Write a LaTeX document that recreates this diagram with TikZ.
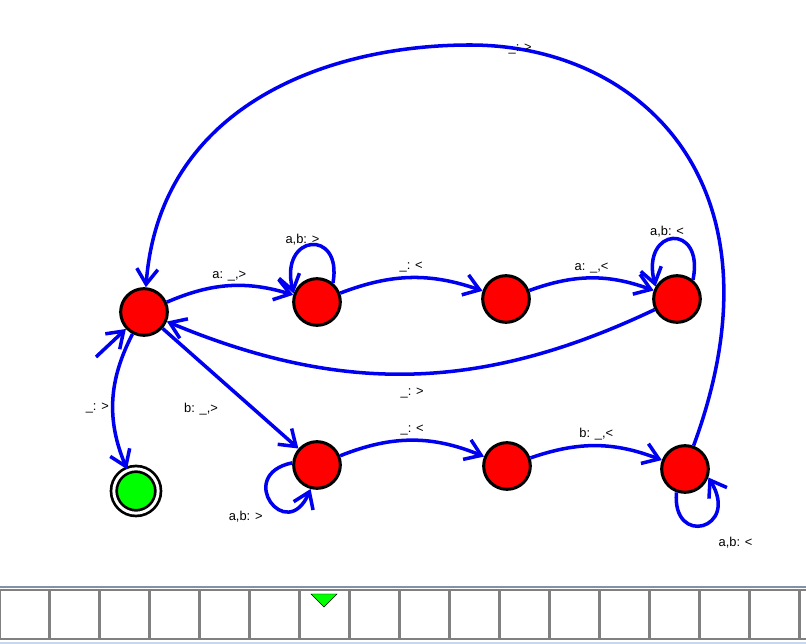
\documentclass[tikz,border=0pt]{standalone}
\usepackage{fontspec}
\setmainfont{Liberation Sans}
\usepackage{xcolor}
\usetikzlibrary{arrows.meta, positioning}

\definecolor{stateRed}{RGB}{255,0,0}
\definecolor{acceptGreen}{RGB}{0,255,0}
\definecolor{transBlue}{RGB}{0,0,240}
\definecolor{tapeGray}{RGB}{128,128,128}
\definecolor{tapeLine}{RGB}{130,145,165}
\definecolor{tapeEdge}{RGB}{200,215,235}

\tikzset{
    state/.style={circle, draw=black, fill=stateRed, line width=2.6pt, minimum size=1.4cm, inner sep=0pt},
    accept/.style={circle, draw=black, fill=acceptGreen, line width=2.3pt, double=white, double distance=2.5pt, minimum size=1.33cm, inner sep=0pt},
    trans/.style={draw=transBlue, line width=3pt, -{Straight Barb[length=13pt, width=18pt]}},
    lbl/.style={font=\fontsize{11}{13}\selectfont, text=black, inner sep=2pt},
    cell/.style={draw=tapeGray, line width=2.5pt},
}

\begin{document}
\begin{tikzpicture}[x=0.03cm, y=0.03cm]
    \useasboundingbox (0,0) rectangle (806,644);
    \clip (0,0) rectangle (806,644);

    % Define the states
    \node[state] (q0) at (144,332) {};
    \node[state] (q1) at (317,342) {};
    \node[state] (q2) at (506,345) {};
    \node[state] (q3) at (677,345) {};
    \node[state] (q4) at (317,179) {};
    \node[state] (q5) at (507,178) {};
    \node[state] (q6) at (685,175) {};
    \node[accept] (qf) at (136,153) {};
    \coordinate (start) at (96,287);
    \coordinate (arcTop) at (470,599);

    % Start arrow
    \draw[trans] (start) -- (q0);

    % Upper row
    \draw[trans] (q0) to[bend left=20] node[lbl, midway, above=1pt] {a: \_,>} (q1);
    \draw[trans] (q1.50) .. controls +(10,55) and +(-15,60) .. (q1.160)
        node[lbl, pos=0.62, above] {a,b: >};
    \draw[trans] (q1) to[bend left=20] node[lbl, midway, above=1pt] {\_: <} (q2);
    \draw[trans] (q2) to[bend left=20] node[lbl, midway, above=1pt] {a: \_,<} (q3);
    \draw[trans] (q3.50) .. controls +(12,58) and +(-15,60) .. (q3.150)
        node[lbl, pos=0.58, above] {a,b: <};
    \draw[trans] (q3) to[bend left=24] node[lbl, midway, below=9pt] {\_: >} (q0);

    % Lower row
    \draw[trans] (q0) -- node[lbl, pos=0.45, below left=2pt, yshift=-13pt] {b: \_,>} (q4);
    \draw[trans] (q4.175) .. controls +(-58,-12) and +(-24,-56) .. (q4.255)
        node[lbl, pos=0.45, below left=2pt, yshift=-7pt] {a,b: >};
    \draw[trans] (q4) to[bend left=22] node[lbl, midway, above=1pt] {\_: <} (q5);
    \draw[trans] (q5) to[bend left=20] node[lbl, midway, above=1pt] {b: \_,<} (q6);
    \draw[trans] (q6.250) .. controls +(-5,-55) and +(32,-52) .. (q6.-20)
        node[lbl, pos=0.6, below right=6pt, yshift=-6pt] {a,b: <};

    % Big arc back and halt
    \draw[trans] (q6) .. controls (790,460) and (640,599) .. node[lbl, pos=0.9] {\_: >} (arcTop)
        .. controls (330,599) and (160,540) .. (q0);
    \draw[trans] (q0) to[bend right=25] node[lbl, pos=0.55, left] {\_: >} (qf);

    % Tape
    \draw[tapeLine, line width=1pt] (0,57) -- (806,57);
    \draw[tapeEdge, line width=2pt] (0,1) -- (806,1);
    \foreach \i in {0,...,16} {
        \draw[cell] (\i*50-0.5,5) rectangle +(50,49);
    }
    \draw[fill=acceptGreen, draw=black, line width=0.4pt] (311,50) -- (337,50) -- (324,37) -- cycle;
\end{tikzpicture}
\end{document}
